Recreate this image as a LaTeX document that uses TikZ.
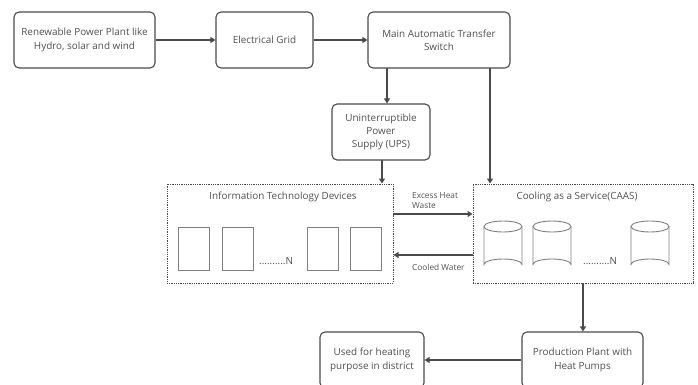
\documentclass[tikz,border=0pt]{standalone}
\usepackage{fontspec}
\setmainfont{Open Sans}
\usetikzlibrary{arrows.meta}
\definecolor{ln}{HTML}{4A4A4A}
\definecolor{tx}{HTML}{505050}
\tikzset{
  box/.style={draw=ln, line width=1.1pt, rounded corners=5pt, align=center, text=tx,
    font=\fontsize{9.9}{13.3}\selectfont, inner sep=0pt},
  dbox/.style={draw=ln, line width=1pt, dash pattern=on 1pt off 0.8pt, inner sep=0pt},
  dev/.style={draw=ln!70, line width=0.9pt, inner sep=0pt, minimum width=31pt, minimum height=43pt},
  conn/.style={draw=ln, line width=1.1pt, -{Triangle[length=5pt,width=6pt]}},
  lbl/.style={text=tx, font=\fontsize{8.3}{10.5}\selectfont, align=left, inner sep=0pt},
  ttl/.style={text=tx, font=\fontsize{9.9}{11}\selectfont, inner sep=0pt},
  cylst/.style={draw=ln!70, line width=0.9pt},
}
\newcommand{\cyl}[4]{% x, top y, width, height
  \draw[cylst] (#1+#3/2,#2+5.5) ellipse[x radius=#3/2,y radius=5.5];
  \draw[cylst] (#1,#2+5.5) -- (#1,#2+#4-5.5) arc[start angle=180,end angle=360,x radius=#3/2,y radius=5.5] -- (#1+#3,#2+5.5);
}
\begin{document}
\begin{tikzpicture}[x=1pt,y=-1pt]
\useasboundingbox (0,0) rectangle (698,385);
% top row
\node[box, minimum width=141pt, minimum height=56pt] (rp) at (84.5,40) {Renewable Power Plant like\\Hydro, solar and wind};
\node[box, minimum width=97pt, minimum height=56pt] (eg) at (264.5,40) {Electrical Grid};
\node[box, minimum width=142pt, minimum height=56pt] (ats) at (439,40) {Main Automatic Transfer\\Switch};
\node[box, minimum width=98pt, minimum height=56pt] (ups) at (381,132) {Uninterruptible\\Power\\Supply (UPS)};
% dotted containers
\node[dbox, minimum width=226pt, minimum height=99pt] (it) at (280,233.5) {};
\node[dbox, minimum width=220pt, minimum height=99pt] (caas) at (583,233.5) {};
\node[ttl] (itt) at (283,197) {Information Technology Devices};
\node[ttl] (cat) at (577,197) {Cooling as a Service(CAAS)};
% devices
\node[dev] (d1) at (194,248.5) {};
\node[dev] (d2) at (237.5,248.5) {};
\node[dev] (d3) at (322.5,248.5) {};
\node[dev] (d4) at (365.5,248.5) {};
\node[ttl, anchor=base west] (dn1) at (259,264) {..........N};
\node[ttl, anchor=base west] (dn2) at (583,264) {..........N};
\cyl{484}{221}{38}{49}
\cyl{533}{221}{38}{49}
\cyl{631}{221}{38}{49}
% bottom row
\node[box, minimum width=121pt, minimum height=56pt] (pp) at (582.5,360) {Production Plant with\\Heat Pumps};
\node[box, minimum width=104pt, minimum height=56pt] (uh) at (372,360) {Used for heating\\purpose in district};
% connectors
\draw[conn] (rp.east) -- (eg.west);
\draw[conn] (eg.east) -- (ats.west);
\coordinate (ats1) at (387,68);
\coordinate (ats2) at (490,68);
\draw[conn] (ats1) -- (ats1 |- ups.north);
\draw[conn] (ats2) -- (ats2 |- caas.north);
\coordinate (ups1) at (382,160);
\draw[conn] (ups1) -- (ups1 |- it.north);
\coordinate (eh) at (393,214);
\draw[conn] (eh) -- (eh -| caas.west);
\coordinate (cw) at (473,255);
\draw[conn] (cw) -- (cw -| it.east);
\node[lbl, anchor=north west] (ehl) at (412,192) {Excess Heat\\Waste};
\node[lbl, anchor=north west] (cwl) at (412,264) {Cooled Water};
\coordinate (cd) at (583,283);
\draw[conn] (cd) -- (cd |- pp.north);
\draw[conn] (pp.west) -- (uh.east);
\end{tikzpicture}
\end{document}
